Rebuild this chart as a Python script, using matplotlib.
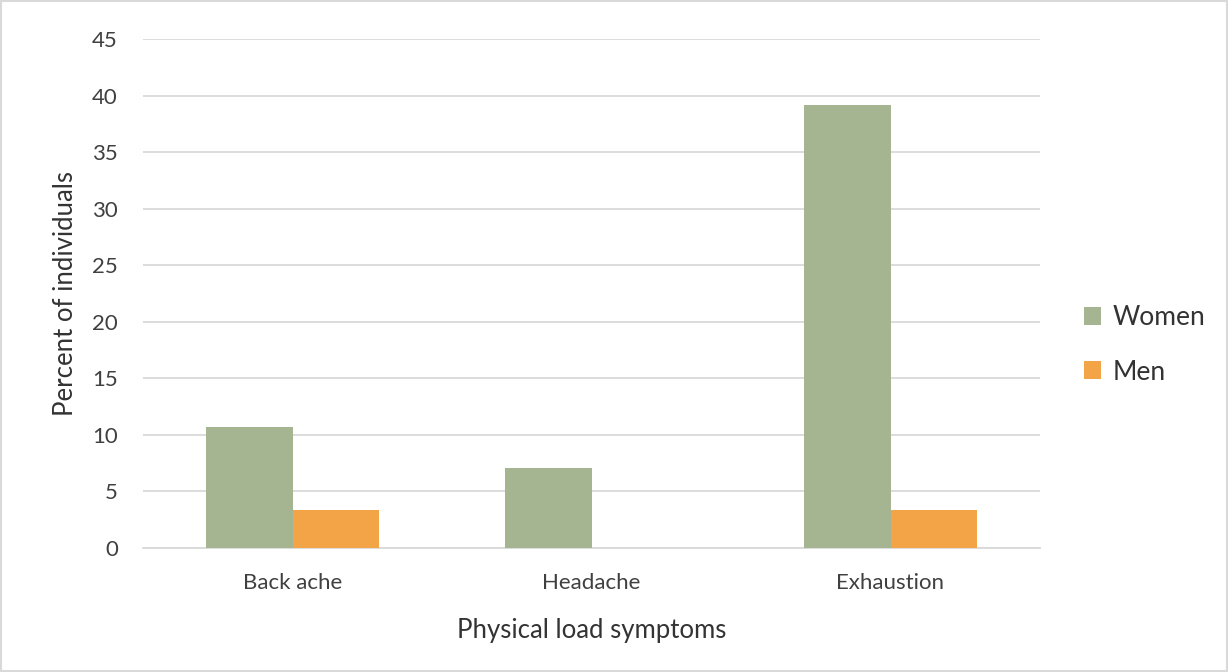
import numpy as np
import matplotlib
matplotlib.use("Agg")
import matplotlib.pyplot as plt

categories = ["Back ache", "Headache", "Exhaustion"]
women = [10.7, 7.1, 39.2]
men = [3.4, 0.0, 3.4]
yticks = [0, 5, 10, 15, 20, 25, 30, 35, 40, 45]

plt.rcParams["font.family"] = ["Lato", "DejaVu Sans"]

fig = plt.figure(figsize=(12.28, 6.72), dpi=100)
ax = fig.add_axes([143 / 1228, 1 - 548 / 672, (1040 - 143) / 1228, (548 - 39) / 672])

x = np.arange(len(categories))
w = 0.288
ax.bar(x - w / 2, women, w, color="#a5b592", label="Women", zorder=3)
ax.bar(x + w / 2, men, w, color="#f2a447", label="Men", zorder=3)

ax.set_xlim(-0.5, len(categories) - 0.5)
ax.set_ylim(0, 45)
ax.set_yticks(yticks)
ax.set_xticks(x)
ax.set_xticklabels(categories)
ax.grid(axis="y", color="#d9d9d9", lw=1.3, zorder=0)
for s in ["top", "right", "left"]:
    ax.spines[s].set_visible(False)
ax.spines["bottom"].set_color("#d9d9d9")
ax.spines["bottom"].set_linewidth(1.3)
ax.tick_params(length=0, labelsize=16, labelcolor="#404040")
ax.tick_params(axis="y", pad=18)
ax.tick_params(axis="x", pad=18)

ax.set_xlabel("Physical load symptoms", fontsize=18.5, color="#333333", labelpad=18)
ax.set_ylabel("Percent of individuals", fontsize=18.5, color="#333333", labelpad=10)

leg = fig.legend(loc="center left", bbox_to_anchor=(1060 / 1228, 1 - 345 / 672),
                 frameon=False, fontsize=19, handlelength=0.65, handleheight=0.65,
                 handletextpad=0.45, labelspacing=1.1)
for t in leg.get_texts():
    t.set_color("#333333")

fig.patches.append(plt.Rectangle((0.001, 0.001), 0.998, 0.998, transform=fig.transFigure,
                                 fill=False, edgecolor="#d9d9d9", lw=1.5))
fig.savefig("out.png", dpi=100)
